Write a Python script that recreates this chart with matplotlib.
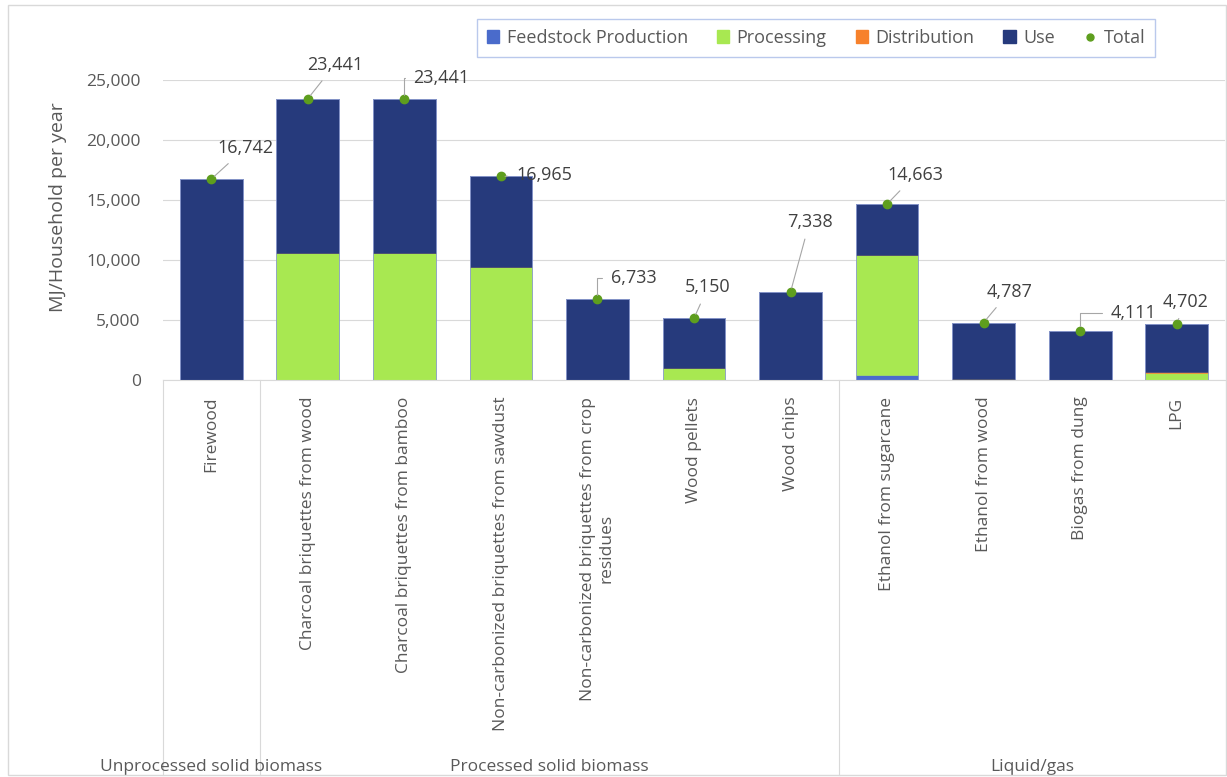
import matplotlib
matplotlib.use("Agg")
import matplotlib.pyplot as plt
import matplotlib.transforms as mtransforms
from matplotlib.patches import Patch, Rectangle
from matplotlib.lines import Line2D

plt.rcParams['font.family'] = ['Open Sans', 'DejaVu Sans']

categories = [
    "Firewood",
    "Charcoal briquettes from wood",
    "Charcoal briquettes from bamboo",
    "Non-carbonized briquettes from sawdust",
    "Non-carbonized briquettes from crop\nresidues",
    "Wood pellets",
    "Wood chips",
    "Ethanol from sugarcane",
    "Ethanol from wood",
    "Biogas from dung",
    "LPG",
]
feedstock = [0, 0, 0, 0, 0, 0, 0, 420, 20, 0, 30]
processing = [0, 10550, 10550, 9390, 0, 980, 0, 10000, 60, 0, 560]
distribution = [0, 0, 0, 0, 0, 0, 0, 30, 0, 0, 110]
use = [16742, 12891, 12891, 7575, 6733, 4170, 7338, 4213, 4707, 4111, 4002]
totals = [16742, 23441, 23441, 16965, 6733, 5150, 7338, 14663, 4787, 4111, 4702]

groups = ["Unprocessed solid biomass", "Processed solid biomass", "Liquid/gas"]
group_sizes = [1, 6, 4]

# label offsets (pixels) for the total annotations and leader style
label_offsets = [(34, 31), (27, 34), (37, 21), (43, 1), (36, 21), (14, 31),
                 (19, 70), (28, 29), (26, 31), (53, 18), (9, 22)]
bent = [False, False, True, False, True, False, False, False, False, True, False]

C_FEED = "#4A6BCB"
C_PROC = "#A8E851"
C_DIST = "#F7812B"
C_USE = "#263A7C"
C_TOT = "#5E9E1E"
TXT = "#595959"

fig = plt.figure(figsize=(12.27, 7.77), dpi=100)
W, H = 1227, 777
AX_W = 1225 - 163
ax = fig.add_axes([163 / W, 1 - 380 / H, AX_W / W, 300 / H])

x = list(range(len(categories)))
bw = 0.65
bottom = [0] * len(x)
for vals, col, lab in [(feedstock, C_FEED, "Feedstock Production"),
                       (processing, C_PROC, "Processing"),
                       (distribution, C_DIST, "Distribution"),
                       (use, C_USE, "Use")]:
    ax.bar(x, vals, bw, bottom=bottom, color=col, label=lab, zorder=2,
           edgecolor=col, linewidth=0.4)
    bottom = [b + v for b, v in zip(bottom, vals)]
# thin light outline around each stacked column
ax.bar(x, totals, bw, fill=False, edgecolor="#8C9BD0", linewidth=0.6, zorder=3)

ax.plot(x, totals, 'o', color=C_TOT, markersize=6, zorder=4, label="Total")

for i, t in enumerate(totals):
    dx, dy = label_offsets[i]
    cs = "angle,angleA=0,angleB=90,rad=0" if bent[i] else "arc3"
    ax.annotate(f"{t:,}", xy=(i, t), xytext=(dx, dy), textcoords="offset pixels",
                ha="center", va="center", fontsize=13, color="#404040",
                arrowprops=dict(arrowstyle="-", color="#A6A6A6", lw=0.8,
                                shrinkA=4, shrinkB=3, connectionstyle=cs),
                zorder=5)

ax.set_xlim(-0.5, len(x) - 0.5)
ax.set_ylim(0, 25000)
ax.set_yticks(range(0, 25001, 5000))
ax.set_yticklabels([f"{v:,}" for v in range(0, 25001, 5000)])
ax.yaxis.grid(True, color="#D9D9D9", linewidth=0.8, zorder=0)
ax.set_axisbelow(True)
for s in ["top", "right", "left"]:
    ax.spines[s].set_visible(False)
ax.spines["bottom"].set_color("#D9D9D9")
ax.tick_params(axis="y", length=0, labelsize=12.5, labelcolor=TXT, pad=16)
ax.tick_params(axis="x", length=0, pad=12)
ax.set_xticks(x)
ax.set_xticklabels(categories, rotation=90, va="top", ha="center",
                   fontsize=12.5, color=TXT, multialignment="center")
ax.set_ylabel("MJ/Household per year", fontsize=14, color=TXT)
ax.yaxis.set_label_coords((67 - 163) / AX_W, (380 - 207) / 300)

# group separators and group names below the category labels
trans = mtransforms.blended_transform_factory(ax.transData, ax.transAxes)
y_bot = (380 - 775) / 300
edges = [-0.5]
for n in group_sizes:
    edges.append(edges[-1] + n)
for e in edges[:-1]:
    ax.plot([e, e], [0, y_bot], transform=trans, color="#D9D9D9", lw=0.8,
            clip_on=False)
group_centers = [0, (0.5 + 6.5) / 2, (6.5 + 10.5) / 2]
for g, c in zip(groups, group_centers):
    ax.text(c, (380 - 767) / 300, g, transform=trans, ha="center", va="center",
            fontsize=12.5, color=TXT)

# chart frame
fig.patches.append(Rectangle((8 / W, 2 / H), 1 - 9 / W, 1 - 7 / H,
                             transform=fig.transFigure, fill=False,
                             edgecolor="#D9D9D9", lw=1))

handles = [Patch(color=C_FEED), Patch(color=C_PROC), Patch(color=C_DIST),
           Patch(color=C_USE),
           Line2D([], [], marker="o", color=C_TOT, linestyle="None", markersize=5)]
labels = ["Feedstock Production", "Processing", "Distribution", "Use", "Total"]
leg = fig.legend(handles, labels, loc="center", ncol=5,
                 bbox_to_anchor=(816 / W, 1 - 38 / H),
                 frameon=True, fancybox=False, fontsize=13,
                 handlelength=0.7, handleheight=0.7, handletextpad=0.4,
                 columnspacing=1.6, borderpad=0.55, labelcolor=TXT)
leg.get_frame().set_edgecolor("#A9BCE8")
leg.get_frame().set_linewidth(1.0)

fig.savefig("out.png", dpi=100)
